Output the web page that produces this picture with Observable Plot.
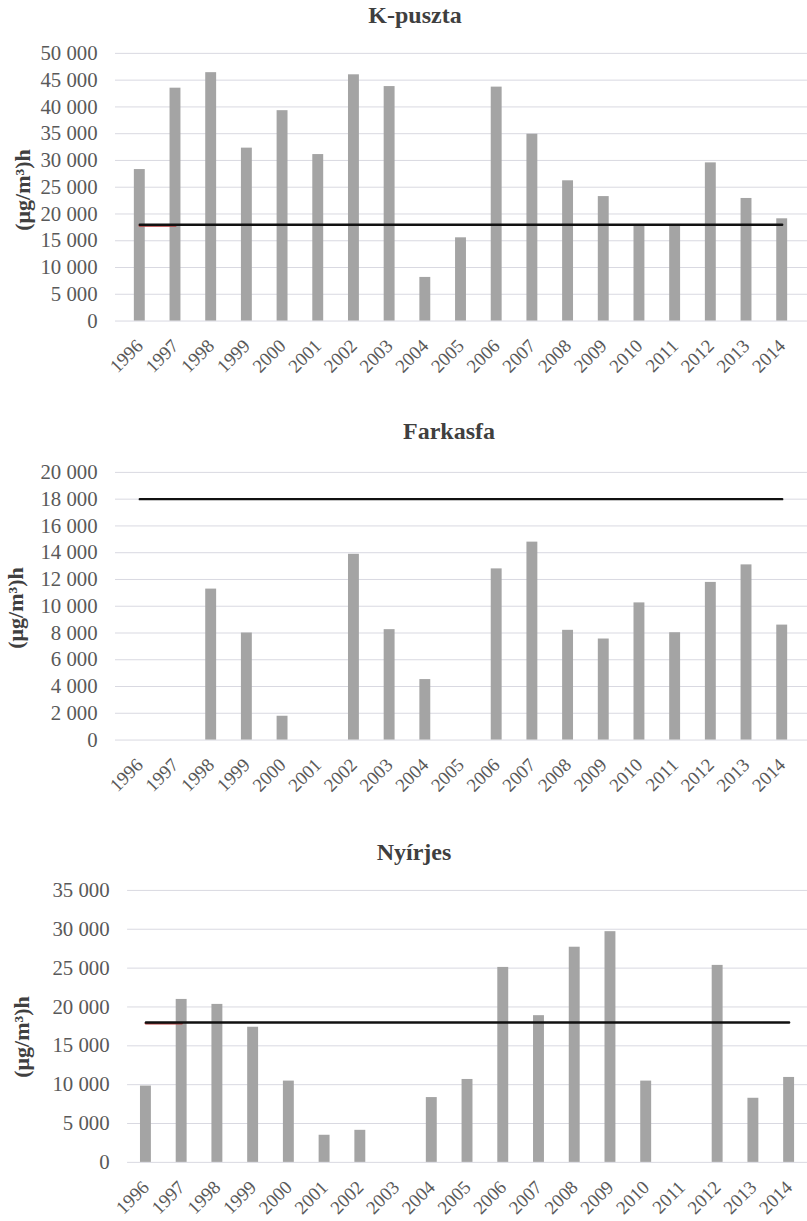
<!DOCTYPE html>
<html>
<head>
<meta charset="utf-8">
<script src="https://cdn.jsdelivr.net/npm/d3@7"></script>
<script src="https://cdn.jsdelivr.net/npm/@observablehq/plot@0.6"></script>
</head>
<body style="margin:0;padding:0;background:#fff;overflow:hidden">
<div id="root" style="position:relative;width:807px;height:1221px;overflow:hidden"></div>
<script>
// ---- data ----
const years = ["1996","1997","1998","1999","2000","2001","2002","2003","2004","2005","2006","2007","2008","2009","2010","2011","2012","2013","2014"];
const kpuszta = [28300, 43500, 46400, 32300, 39300, 31100, 46000, 43800, 8150, 15550, 43700, 34900, 26200, 23250, 17900, 17900, 29550, 22900, 19100];
const farkasfa = [null, null, 11280, 8000, 1780, null, 13880, 8250, 4520, null, 12790, 14790, 8200, 7550, 10250, 8020, 11780, 13090, 8590];
const nyirjes = [9820, 20970, 20330, 17390, 10460, 3490, 4125, null, 8340, 10670, 25090, 18880, 27690, 29690, 10460, null, 25350, 8250, 10930];
const limitValue = 18000;
const kpTicks = [0, 5000, 10000, 15000, 20000, 25000, 30000, 35000, 40000, 45000, 50000];
const fkTicks = [0, 2000, 4000, 6000, 8000, 10000, 12000, 14000, 16000, 18000, 20000];
const nyTicks = [0, 5000, 10000, 15000, 20000, 25000, 30000, 35000];
const titles = ["K-puszta", "Farkasfa", "Nyírjes"];
const yLabel = "(μg/m³)h";

const SERIF = "'Liberation Serif'";
const fmt = d => d3.format(",")(d).replace(/,/g, " ");

function panel({values, ticks, width, marginLeft, top, marginTop, plotHeight, redStub}) {
  const data = years.map((y, i) => ({year: y, value: values[i]})).filter(d => d.value != null);
  const limitData = years.map(y => ({year: y, value: limitValue}));
  const stub = years.slice(0, 2).map(y => ({year: y, value: limitValue}));
  const marginBottom = 55;
  const marks = [
    Plot.ruleY(ticks, {stroke: "#d9d9e1", strokeWidth: 1}),
    Plot.barY(data, {x: "year", y: "value", fill: "#a4a4a4"}),
  ];
  if (redStub) marks.push(Plot.line(stub, {x: "year", y: "value", stroke: "#b23a3a", strokeWidth: 2.5, dy: 0.8}));
  marks.push(Plot.line(limitData, {x: "year", y: "value", stroke: "#111", strokeWidth: 2.4}));
  const svg = Plot.plot({
    width,
    height: marginTop + plotHeight + marginBottom,
    marginTop,
    marginLeft,
    marginRight: 0,
    marginBottom,
    style: {fontSize: "21px", color: "#595959", background: "transparent", overflow: "visible"},
    x: {type: "band", domain: years, paddingInner: 0.69, paddingOuter: 0.345, tickRotate: -45, tickSize: 0, tickPadding: 22, label: null},
    y: {domain: [0, ticks[ticks.length - 1]], ticks, tickFormat: fmt, tickSize: 0, tickPadding: 18, label: null},
    marks
  });
  svg.style.position = "absolute";
  svg.style.left = "0px";
  svg.style.top = top + "px";
  svg.style.fontFamily = SERIF;
  svg.querySelectorAll("text").forEach(t => { t.setAttribute("font-family", "Liberation Serif"); t.style.fontFamily = SERIF; });
  svg.querySelectorAll("g").forEach(g => { g.removeAttribute("font-family"); });
  svg.querySelectorAll('g[aria-label^="x-axis"] text').forEach(t => { t.style.fontSize = "19px"; });
  return svg;
}

const root = document.getElementById("root");
root.appendChild(panel({values: kpuszta, ticks: kpTicks, width: 814, marginLeft: 116, top: 40, marginTop: 13, plotHeight: 270, redStub: true}));
root.appendChild(panel({values: farkasfa, ticks: fkTicks, width: 814, marginLeft: 116, top: 460, marginTop: 12, plotHeight: 270, redStub: false}));
root.appendChild(panel({values: nyirjes, ticks: nyTicks, width: 813, marginLeft: 128, top: 878, marginTop: 12, plotHeight: 274, redStub: true}));

const titlePos = [[415, 3], [449, 419], [414, 840]];
titles.forEach((t, i) => {
  const d = document.createElement("div");
  d.textContent = t;
  Object.assign(d.style, {position: "absolute", width: "400px", textAlign: "center", fontFamily: SERIF, fontWeight: "bold", fontSize: "24px", lineHeight: "24px", color: "#3f3f3f", whiteSpace: "nowrap",
    left: (titlePos[i][0] - 200) + "px", top: titlePos[i][1] + "px"});
  root.appendChild(d);
});
const ylabPos = [[23, 190], [16, 608], [22, 1037]];
ylabPos.forEach(([x, y]) => {
  const d = document.createElement("div");
  d.textContent = yLabel;
  Object.assign(d.style, {position: "absolute", fontFamily: SERIF, fontWeight: "bold", fontSize: "22px", lineHeight: "22px", color: "#404040", whiteSpace: "nowrap",
    transform: "translate(-50%, -50%) rotate(-90deg)", left: x + "px", top: y + "px"});
  root.appendChild(d);
});
</script>
</body>
</html>
